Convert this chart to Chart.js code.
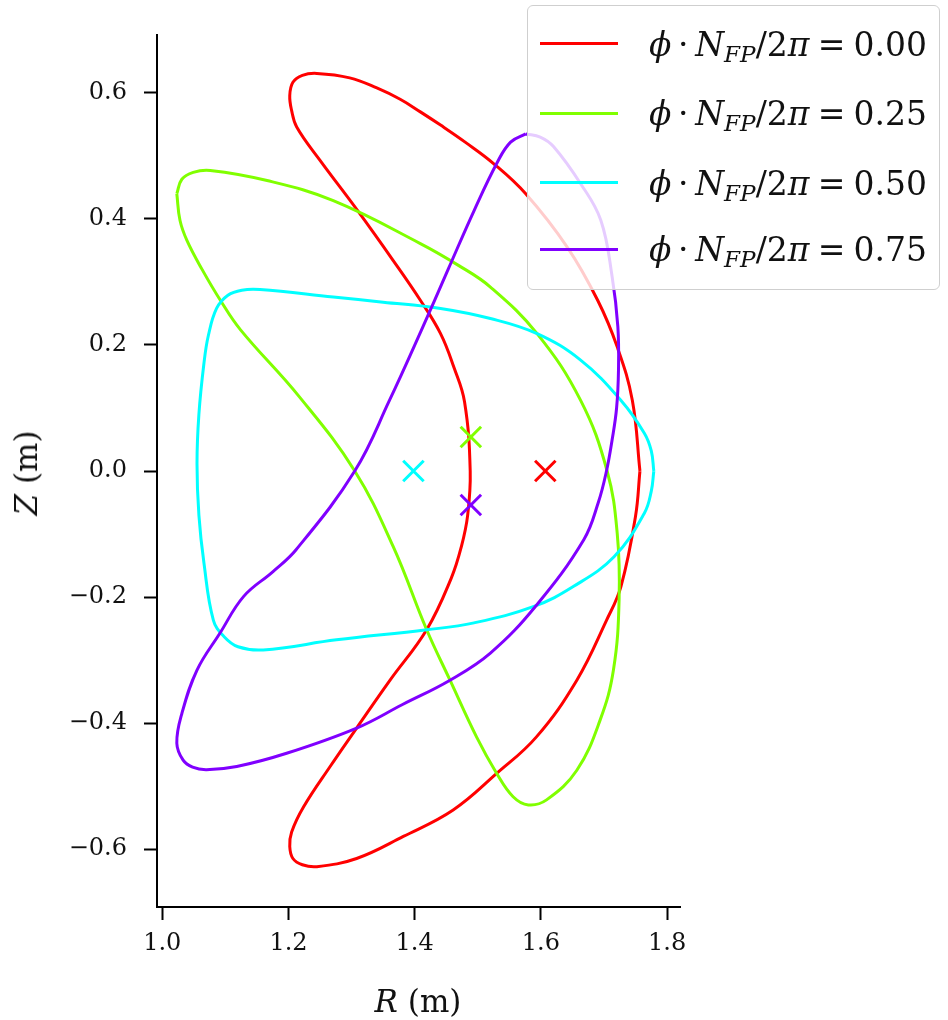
<!DOCTYPE html>
<html>
<head>
<meta charset="utf-8">
<script src="https://cdn.jsdelivr.net/npm/chart.js@4.4.1/dist/chart.umd.min.js"></script>
<style>
	html, body { margin: 0; padding: 0; background: #fff; }
	#wrap { position: relative; width: 948px; height: 1020px; }
	#legend {
		position: absolute; left: 527px; top: 5px; width: 413px; height: 285px;
		box-sizing: border-box; border: 1.5px solid #cfcfcf; border-radius: 6px;
		background: rgba(255, 255, 255, 0.8);
	}
	.sw { position: absolute; left: 12px; width: 78px; height: 3px; margin-top: -1.5px; }
	.lbl {
		position: absolute; left: 121px; transform: translateY(-50%);
		font: 33px "DejaVu Serif"; color: #111; white-space: nowrap; line-height: 1;
	}
	.lbl sub { font-size: 0.7em; vertical-align: -0.28em; line-height: 0; }
	.bo { margin: 0 0.2em; }
	.rel { margin: 0 0.25em; }
	.title { position: absolute; font: 31px "DejaVu Serif"; color: #111; white-space: nowrap; }
</style>
</head>
<body>
<div id="wrap">
	<canvas id="myChart" width="948" height="1020"></canvas>
	<div id="legend"></div>
	<div class="title" id="xTitle" style="left:418px; top:1001px; transform:translate(-50%,-50%);"><i>R</i> (m)</div>
	<div class="title" id="yTitle" style="left:26px; top:473px; transform:translate(-50%,-50%) rotate(-90deg);"><i>Z</i> (m)</div>
</div>
<script>
// 단면 데이터 (R, Z 단위 m) - 그림에서 읽은 값
const phiLabels = ['0.00', '0.25', '0.50', '0.75'];

// phi*NFP/2pi = 0.00
const r000 = [1.757, 1.745, 1.721, 1.690, 1.642, 1.576, 1.525, 1.480, 1.441, 1.409, 1.377, 1.340, 1.297, 1.245, 1.222, 1.207, 1.202, 1.205, 1.213, 1.250, 1.309, 1.366, 1.409, 1.441, 1.462, 1.479, 1.488, 1.484, 1.474, 1.458, 1.419, 1.361, 1.308, 1.266, 1.224, 1.205, 1.202, 1.207, 1.222, 1.245, 1.308, 1.382, 1.461, 1.530, 1.593, 1.657, 1.704, 1.727, 1.750];
const z000 = [0.000, 0.112, 0.197, 0.271, 0.355, 0.440, 0.488, 0.522, 0.549, 0.570, 0.590, 0.608, 0.624, 0.631, 0.628, 0.617, 0.596, 0.572, 0.546, 0.493, 0.414, 0.334, 0.271, 0.218, 0.165, 0.110, 0.000, -0.070, -0.120, -0.170, -0.252, -0.332, -0.408, -0.469, -0.533, -0.573, -0.596, -0.615, -0.625, -0.628, -0.615, -0.580, -0.538, -0.480, -0.422, -0.332, -0.237, -0.183, -0.072];

// phi*NFP/2pi = 0.25
const r025 = [1.023, 1.031, 1.049, 1.076, 1.166, 1.271, 1.409, 1.470, 1.520, 1.594, 1.663, 1.705, 1.721, 1.724, 1.715, 1.694, 1.657, 1.609, 1.580, 1.556, 1.530, 1.498, 1.456, 1.419, 1.366, 1.305, 1.217, 1.124, 1.092, 1.063, 1.039, 1.028];
const z025 = [0.440, 0.463, 0.474, 0.477, 0.461, 0.429, 0.361, 0.326, 0.292, 0.218, 0.112, 0.000, -0.099, -0.204, -0.316, -0.395, -0.475, -0.522, -0.530, -0.517, -0.480, -0.422, -0.332, -0.252, -0.120, 0.000, 0.118, 0.224, 0.271, 0.320, 0.366, 0.398];

// phi*NFP/2pi = 0.50
const r050 = [1.779, 1.775, 1.764, 1.727, 1.663, 1.594, 1.520, 1.441, 1.350, 1.271, 1.155, 1.126, 1.104, 1.086, 1.073, 1.066, 1.058, 1.055, 1.058, 1.066, 1.081, 1.098, 1.120, 1.160, 1.276, 1.419, 1.494, 1.589, 1.652, 1.716, 1.764, 1.775];
const z050 = [0.000, 0.032, 0.060, 0.112, 0.176, 0.218, 0.242, 0.258, 0.268, 0.276, 0.288, 0.287, 0.279, 0.258, 0.215, 0.171, 0.090, 0.012, -0.070, -0.146, -0.237, -0.263, -0.279, -0.284, -0.268, -0.252, -0.241, -0.215, -0.183, -0.136, -0.067, -0.032];

// phi*NFP/2pi = 0.75
const r075 = [1.576, 1.599, 1.620, 1.663, 1.695, 1.713, 1.722, 1.723, 1.720, 1.713, 1.704, 1.691, 1.668, 1.593, 1.520, 1.456, 1.380, 1.308, 1.197, 1.118, 1.070, 1.048, 1.033, 1.023, 1.031, 1.055, 1.091, 1.129, 1.175, 1.212, 1.305, 1.360, 1.410, 1.453, 1.494, 1.531, 1.552];
const z075 = [0.535, 0.530, 0.515, 0.456, 0.398, 0.308, 0.229, 0.160, 0.100, 0.050, 0.000, -0.050, -0.109, -0.213, -0.289, -0.332, -0.371, -0.408, -0.448, -0.469, -0.474, -0.470, -0.459, -0.432, -0.385, -0.316, -0.258, -0.199, -0.160, -0.125, 0.000, 0.112, 0.222, 0.320, 0.413, 0.490, 0.522];

// 자기축 위치 (x 표시)
const axisR = [1.607, 1.489, 1.398, 1.489];
const axisZ = [0.000, 0.054, 0.000, -0.054];

// 눈금
const xTicks = [1.0, 1.2, 1.4, 1.6, 1.8];
const yTicks = [-0.6, -0.4, -0.2, 0.0, 0.2, 0.4, 0.6];

const colors = ['#ff0000', '#80ff00', '#00ffff', '#8000ff'];
const curves = [[r000, z000], [r025, z025], [r050, z050], [r075, z075]];

// 닫힌 곡선: 첫 점을 끝에 한번 더
const loop = (r, z) => {
	const pts = r.map((v, i) => ({ x: v, y: z[i] }));
	pts.push(pts[0]);
	return pts;
};

const fmt = (v) => (v < 0 ? '\u2212' : '') + Math.abs(v).toFixed(1);
const tickFont = { family: 'DejaVu Serif', size: 24 };

const datasets = curves.map((c, i) => ({
	label: phiLabels[i],
	data: loop(c[0], c[1]),
	showLine: true,
	borderColor: colors[i],
	borderWidth: 3,
	pointRadius: 0,
	tension: 0.4,
	fill: false,
	order: 5 - i
}));

datasets.push({
	label: 'axis',
	data: axisR.map((v, i) => ({ x: v, y: axisZ[i] })),
	showLine: false,
	pointStyle: 'crossRot',
	pointRadius: 14.5,
	pointBorderWidth: 3,
	pointBorderColor: colors,
	pointBackgroundColor: colors,
	order: 0
});

const axisStyle = {
	grid: { display: true, drawOnChartArea: false, drawTicks: true, tickLength: 13, tickWidth: 2, tickColor: '#000' },
	border: { display: true, color: '#000', width: 2 }
};

const ctx = document.getElementById('myChart');
new Chart(ctx, {
	type: 'scatter',
	data: { datasets: datasets },
	options: {
		responsive: false,
		devicePixelRatio: 1,
		animation: false,
		events: [],
		layout: { padding: { left: 0, right: 268, top: 35, bottom: 0 } },
		plugins: { legend: { display: false }, tooltip: { enabled: false } },
		scales: {
			x: {
				type: 'linear', min: 0.9916, max: 1.8205,
				afterFit: (s) => { s.height = 113; },
				afterBuildTicks: (s) => { s.ticks = xTicks.map(v => ({ value: v })); },
				ticks: { callback: fmt, font: tickFont, color: '#111', padding: 9, maxRotation: 0, autoSkip: false },
				...axisStyle
			},
			y: {
				type: 'linear', min: -0.692, max: 0.692,
				afterFit: (s) => { s.width = 157; },
				afterBuildTicks: (s) => { s.ticks = yTicks.map(v => ({ value: v })); },
				ticks: { callback: fmt, font: tickFont, color: '#111', padding: 17, autoSkip: false },
				...axisStyle
			}
		}
	}
});

// 범례 (첨자 때문에 html로)
const legend = document.getElementById('legend');
const rowY = [37.7, 107.3, 176.7, 243.3];
phiLabels.forEach((p, i) => {
	legend.innerHTML += `
		<div class="sw" style="top:${rowY[i]}px; background:${colors[i]}"></div>
		<div class="lbl" style="top:${rowY[i]}px"><i>ϕ</i><span class="bo">·</span><i>N</i><sub><i>FP</i></sub>/2<i>π</i><span class="rel">=</span>${p}</div>
	`;
});
</script>
</body>
</html>
